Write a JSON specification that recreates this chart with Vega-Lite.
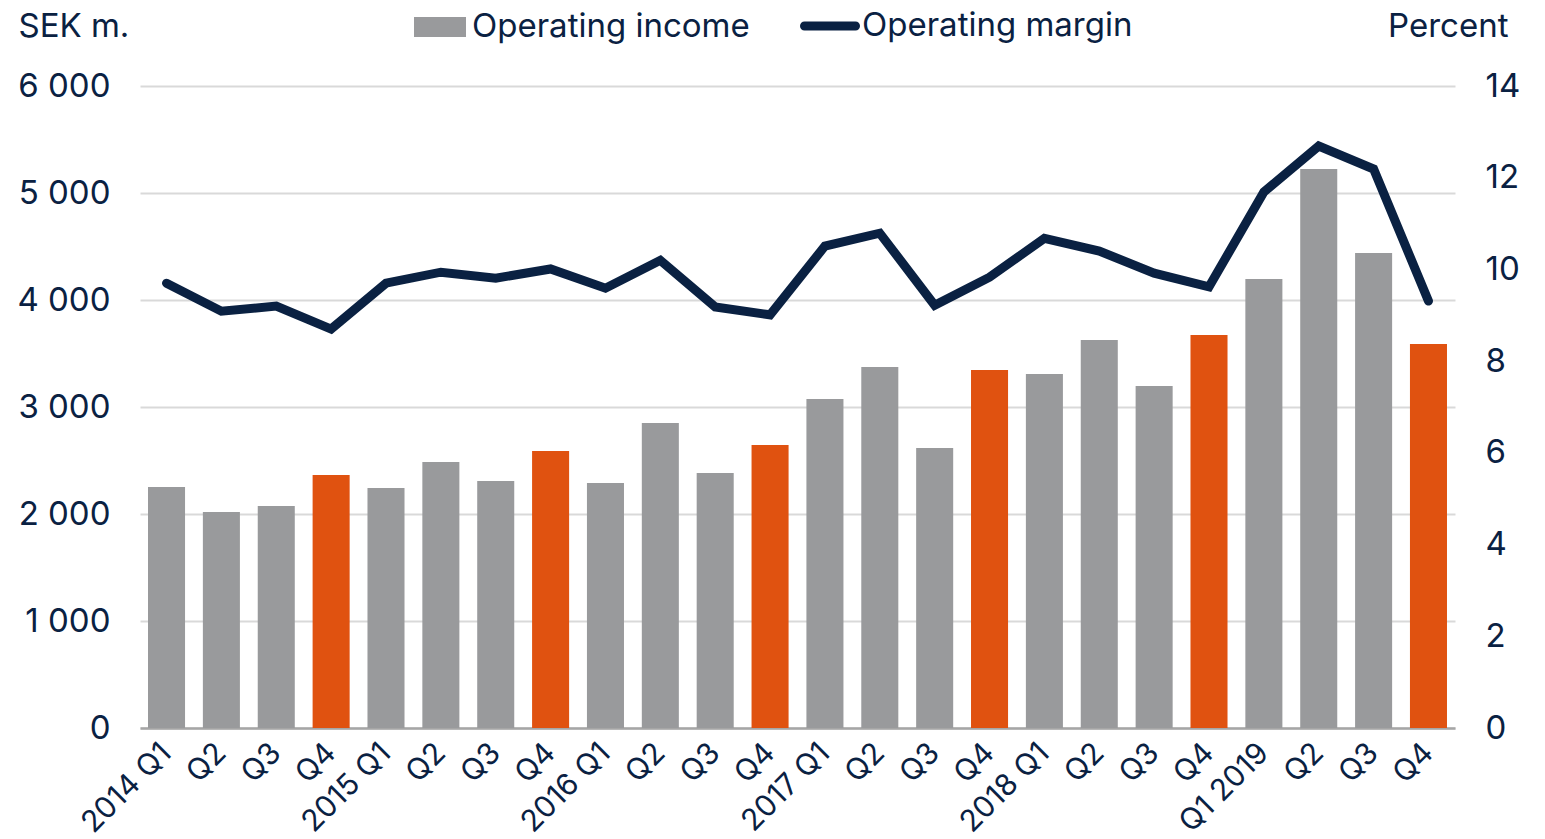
{
  "$schema": "https://vega.github.io/schema/vega-lite/v6.json",
  "autosize": "none",
  "width": 1315,
  "height": 642,
  "padding": {"left": 140, "top": 86, "right": 90, "bottom": 111},
  "background": "white",
  "config": {
    "view": {"stroke": null},
    "font": "Inter",
    "axis": {"labelFont": "Inter", "titleFont": "Inter", "labelColor": "#0a2142", "titleColor": "#0a2142"},
    "legend": {"labelFont": "Inter", "labelColor": "#0a2142"}
  },
  "data": {
    "values": [
      {"period": "2014 Q1", "income": 2252, "margin": 9.70, "q4": "no"},
      {"period": "2014 Q2", "income": 2019, "margin": 9.09, "q4": "no"},
      {"period": "2014 Q3", "income": 2075, "margin": 9.20, "q4": "no"},
      {"period": "2014 Q4", "income": 2364, "margin": 8.70, "q4": "yes"},
      {"period": "2015 Q1", "income": 2243, "margin": 9.70, "q4": "no"},
      {"period": "2015 Q2", "income": 2486, "margin": 9.94, "q4": "no"},
      {"period": "2015 Q3", "income": 2308, "margin": 9.81, "q4": "no"},
      {"period": "2015 Q4", "income": 2589, "margin": 10.01, "q4": "yes"},
      {"period": "2016 Q1", "income": 2290, "margin": 9.59, "q4": "no"},
      {"period": "2016 Q2", "income": 2850, "margin": 10.20, "q4": "no"},
      {"period": "2016 Q3", "income": 2383, "margin": 9.18, "q4": "no"},
      {"period": "2016 Q4", "income": 2645, "margin": 9.01, "q4": "yes"},
      {"period": "2017 Q1", "income": 3075, "margin": 10.51, "q4": "no"},
      {"period": "2017 Q2", "income": 3374, "margin": 10.79, "q4": "no"},
      {"period": "2017 Q3", "income": 2617, "margin": 9.22, "q4": "no"},
      {"period": "2017 Q4", "income": 3346, "margin": 9.83, "q4": "yes"},
      {"period": "2018 Q1", "income": 3308, "margin": 10.68, "q4": "no"},
      {"period": "2018 Q2", "income": 3626, "margin": 10.40, "q4": "no"},
      {"period": "2018 Q3", "income": 3196, "margin": 9.92, "q4": "no"},
      {"period": "2018 Q4", "income": 3673, "margin": 9.62, "q4": "yes"},
      {"period": "2019 Q1", "income": 4196, "margin": 11.69, "q4": "no"},
      {"period": "2019 Q2", "income": 5224, "margin": 12.69, "q4": "no"},
      {"period": "2019 Q3", "income": 4439, "margin": 12.19, "q4": "no"},
      {"period": "2019 Q4", "income": 3589, "margin": 9.31, "q4": "yes"}
    ]
  },
  "encoding": {
    "x": {
      "field": "period",
      "type": "ordinal",
      "sort": null,
      "scale": {"paddingInner": 0.325, "paddingOuter": 0.146},
      "axis": {
        "title": null,
        "labelAngle": -45,
        "labelAlign": "right",
        "labelBaseline": "middle",
        "labelFontSize": 30,
        "labelPadding": 20,
        "ticks": false,
        "domain": true,
        "domainColor": "#a6a6a6",
        "domainWidth": 2.5,
        "labelExpr": "datum.value == '2019 Q1' ? 'Q1 2019' : (indexof(datum.value, 'Q1') >= 0 ? datum.value : slice(datum.value, 5))"
      }
    }
  },
  "layer": [
    {
      "mark": {"type": "bar"},
      "encoding": {
        "y": {
          "field": "income",
          "type": "quantitative",
          "scale": {"domain": [0, 6000], "nice": false},
          "axis": {
            "title": "SEK m.",
            "titleAngle": 0,
            "titleX": -122,
            "titleY": -50,
            "titleAlign": "left",
            "titleBaseline": "alphabetic",
            "titleFontSize": 33,
            "titleFontWeight": "normal",
            "values": [0, 1000, 2000, 3000, 4000, 5000, 6000],
            "labelExpr": "replace(format(datum.value, ','), ',', ' ')",
            "labelFontSize": 33,
            "labelPadding": 30,
            "ticks": false,
            "domain": false,
            "grid": true,
            "gridColor": "#d9d9d9",
            "gridWidth": 2
          }
        },
        "fill": {
          "field": "q4",
          "type": "nominal",
          "scale": {"domain": ["no", "yes"], "range": ["#999a9c", "#e05210"]},
          "legend": {
            "orient": "none",
            "legendX": 274,
            "legendY": -85,
            "title": null,
            "values": ["no"],
            "labelExpr": "'Operating income'",
            "labelFontSize": 33,
            "labelLimit": 0,
            "labelOffset": 6,
            "symbolType": "M-1,-0.385H1V0.385H-1Z",
            "symbolSize": 2704,
            "symbolStrokeWidth": 0
          }
        }
      }
    },
    {
      "mark": {"type": "line", "strokeWidth": 9, "strokeCap": "round", "strokeJoin": "miter"},
      "encoding": {
        "y": {
          "field": "margin",
          "type": "quantitative",
          "scale": {"domain": [0, 14], "nice": false},
          "axis": {
            "orient": "right",
            "title": "Percent",
            "titleAngle": 0,
            "titleX": 53,
            "titleY": -50,
            "titleAlign": "right",
            "titleBaseline": "alphabetic",
            "titleFontSize": 33,
            "titleFontWeight": "normal",
            "values": [0, 2, 4, 6, 8, 10, 12, 14],
            "labelFontSize": 33,
            "labelPadding": 30,
            "ticks": false,
            "domain": false,
            "grid": false
          }
        },
        "stroke": {
          "datum": "Operating margin",
          "type": "nominal",
          "scale": {"range": ["#0a2142"]},
          "legend": {
            "orient": "none",
            "legendX": 660,
            "legendY": -90,
            "title": null,
            "labelFontSize": 33,
            "labelLimit": 0,
            "labelOffset": 2,
            "symbolType": "M-0.85,-0.15H0.85A0.15,0.15 0 0 1 0.85,0.15H-0.85A0.15,0.15 0 0 1 -0.85,-0.15Z",
            "symbolSize": 3600,
            "symbolFillColor": "#0a2142",
            "symbolStrokeWidth": 0
          }
        }
      }
    }
  ],
  "resolve": {"scale": {"y": "independent"}}
}
